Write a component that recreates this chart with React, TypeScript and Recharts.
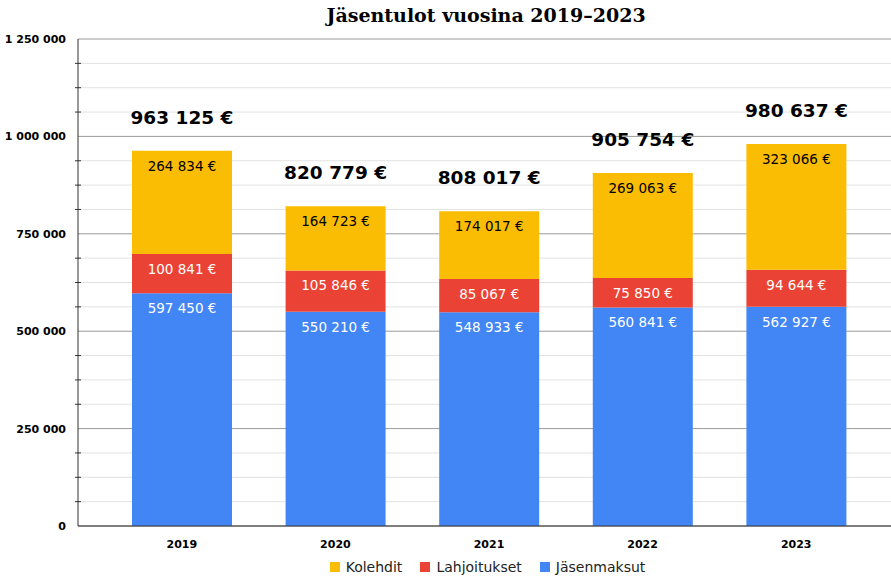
import { BarChart, Bar, XAxis, YAxis, CartesianGrid, Legend, LabelList } from 'recharts'

const YEARS = ['2019', '2020', '2021', '2022', '2023']
const JASENMAKSUT = [597450, 550210, 548933, 560841, 562927]
const LAHJOITUKSET = [100841, 105846, 85067, 75850, 94644]
const KOLEHDIT = [264834, 164723, 174017, 269063, 323066]

const MAJOR_TICKS = [0, 250000, 500000, 750000, 1000000, 1250000]
const MINOR_TICKS = [
  62500, 125000, 187500, 312500, 375000, 437500, 562500, 625000, 687500,
  812500, 875000, 937500, 1062500, 1125000, 1187500,
]

const SERIES = [
  { key: 'kolehdit', name: 'Kolehdit', color: '#FBBC04' },
  { key: 'lahjoitukset', name: 'Lahjoitukset', color: '#EA4335' },
  { key: 'jasenmaksut', name: 'Jäsenmaksut', color: '#4285F4' },
]

const data = YEARS.map((year, i) => ({
  year,
  jasenmaksut: JASENMAKSUT[i],
  lahjoitukset: LAHJOITUKSET[i],
  kolehdit: KOLEHDIT[i],
  total: JASENMAKSUT[i] + LAHJOITUKSET[i] + KOLEHDIT[i],
}))

const FONT = '"DejaVu Sans", Verdana, sans-serif'

const spaced = (n: number) => String(n).replace(/\B(?=(\d{3})+(?!\d))/g, ' ')
const euro = (n: number) => spaced(n) + ' €'

const segmentLabel = (color: string) => (props: any) => {
  const { x, y, width, value } = props
  return (
    <text x={x + width / 2} y={y + 20} textAnchor="middle" fill={color} fontSize={13.5} fontFamily={FONT}>
      {euro(value)}
    </text>
  )
}

const totalLabel = (props: any) => {
  const { x, y, width, value } = props
  return (
    <text x={x + width / 2} y={y - 27} textAnchor="middle" fill="#000" fontSize={18.5} fontWeight="bold" fontFamily={FONT}>
      {euro(value)}
    </text>
  )
}

const YTick = (props: any) => {
  const { x, y, payload } = props
  if (MAJOR_TICKS.includes(payload.value)) {
    return (
      <text x={x - 4} y={y + 4} textAnchor="end" fontSize={11} fontWeight="bold" fill="#000" fontFamily={FONT}>
        {spaced(payload.value)}
      </text>
    )
  }
  return <line x1={x + 5} x2={x + 11} y1={y} y2={y} stroke="#333" />
}

const LegendContent = () => (
  <div style={{ display: 'flex', justifyContent: 'center', alignItems: 'center', height: 27, paddingLeft: 84, fontFamily: FONT, fontSize: 14, color: '#222' }}>
    {SERIES.map(s => (
      <span key={s.key} style={{ display: 'flex', alignItems: 'center', margin: '0 9px' }}>
        <span style={{ width: 10, height: 10, background: s.color, marginRight: 6, display: 'inline-block' }} />
        {s.name}
      </span>
    ))}
  </div>
)

export default function App() {
  return (
    <div style={{ position: 'absolute', left: 0, top: 0, width: 891, height: 580, background: '#fff' }}>
      <div style={{ position: 'absolute', top: 4, left: 0, width: 972, textAlign: 'center', fontFamily: '"DejaVu Serif", Georgia, serif', fontWeight: 'bold', fontSize: 19, color: '#000' }}>
        Jäsentulot vuosina 2019–2023
      </div>
      <BarChart width={891} height={580} data={data} margin={{ top: 39, right: 0, left: 0, bottom: 0 }} barSize={100}>
        <CartesianGrid vertical={false} horizontalValues={MINOR_TICKS} stroke="#e2e2e2" />
        <CartesianGrid vertical={false} horizontalValues={MAJOR_TICKS} stroke="#9a9a9a" />
        <XAxis
          dataKey="year"
          padding={{ left: 27, right: 18 }}
          tickLine={false}
          axisLine={{ stroke: '#333' }}
          tickMargin={8}
          height={27}
          tick={{ fontSize: 11, fontWeight: 'bold', fill: '#000', fontFamily: FONT }}
        />
        <YAxis
          width={78}
          domain={[0, 1250000]}
          ticks={[...MAJOR_TICKS, ...MINOR_TICKS].sort((a, b) => a - b)}
          interval={0}
          tickLine={false}
          axisLine={{ stroke: '#333' }}
          tick={<YTick />}
        />
        <Legend verticalAlign="bottom" content={<LegendContent />} />
        <Bar dataKey="jasenmaksut" name="Jäsenmaksut" stackId="a" fill="#4285F4" isAnimationActive={false}>
          <LabelList dataKey="jasenmaksut" content={segmentLabel('#fff')} />
        </Bar>
        <Bar dataKey="lahjoitukset" name="Lahjoitukset" stackId="a" fill="#EA4335" isAnimationActive={false}>
          <LabelList dataKey="lahjoitukset" content={segmentLabel('#fff')} />
        </Bar>
        <Bar dataKey="kolehdit" name="Kolehdit" stackId="a" fill="#FBBC04" isAnimationActive={false}>
          <LabelList dataKey="kolehdit" content={segmentLabel('#000')} />
          <LabelList dataKey="total" content={totalLabel} />
        </Bar>
      </BarChart>
    </div>
  )
}
